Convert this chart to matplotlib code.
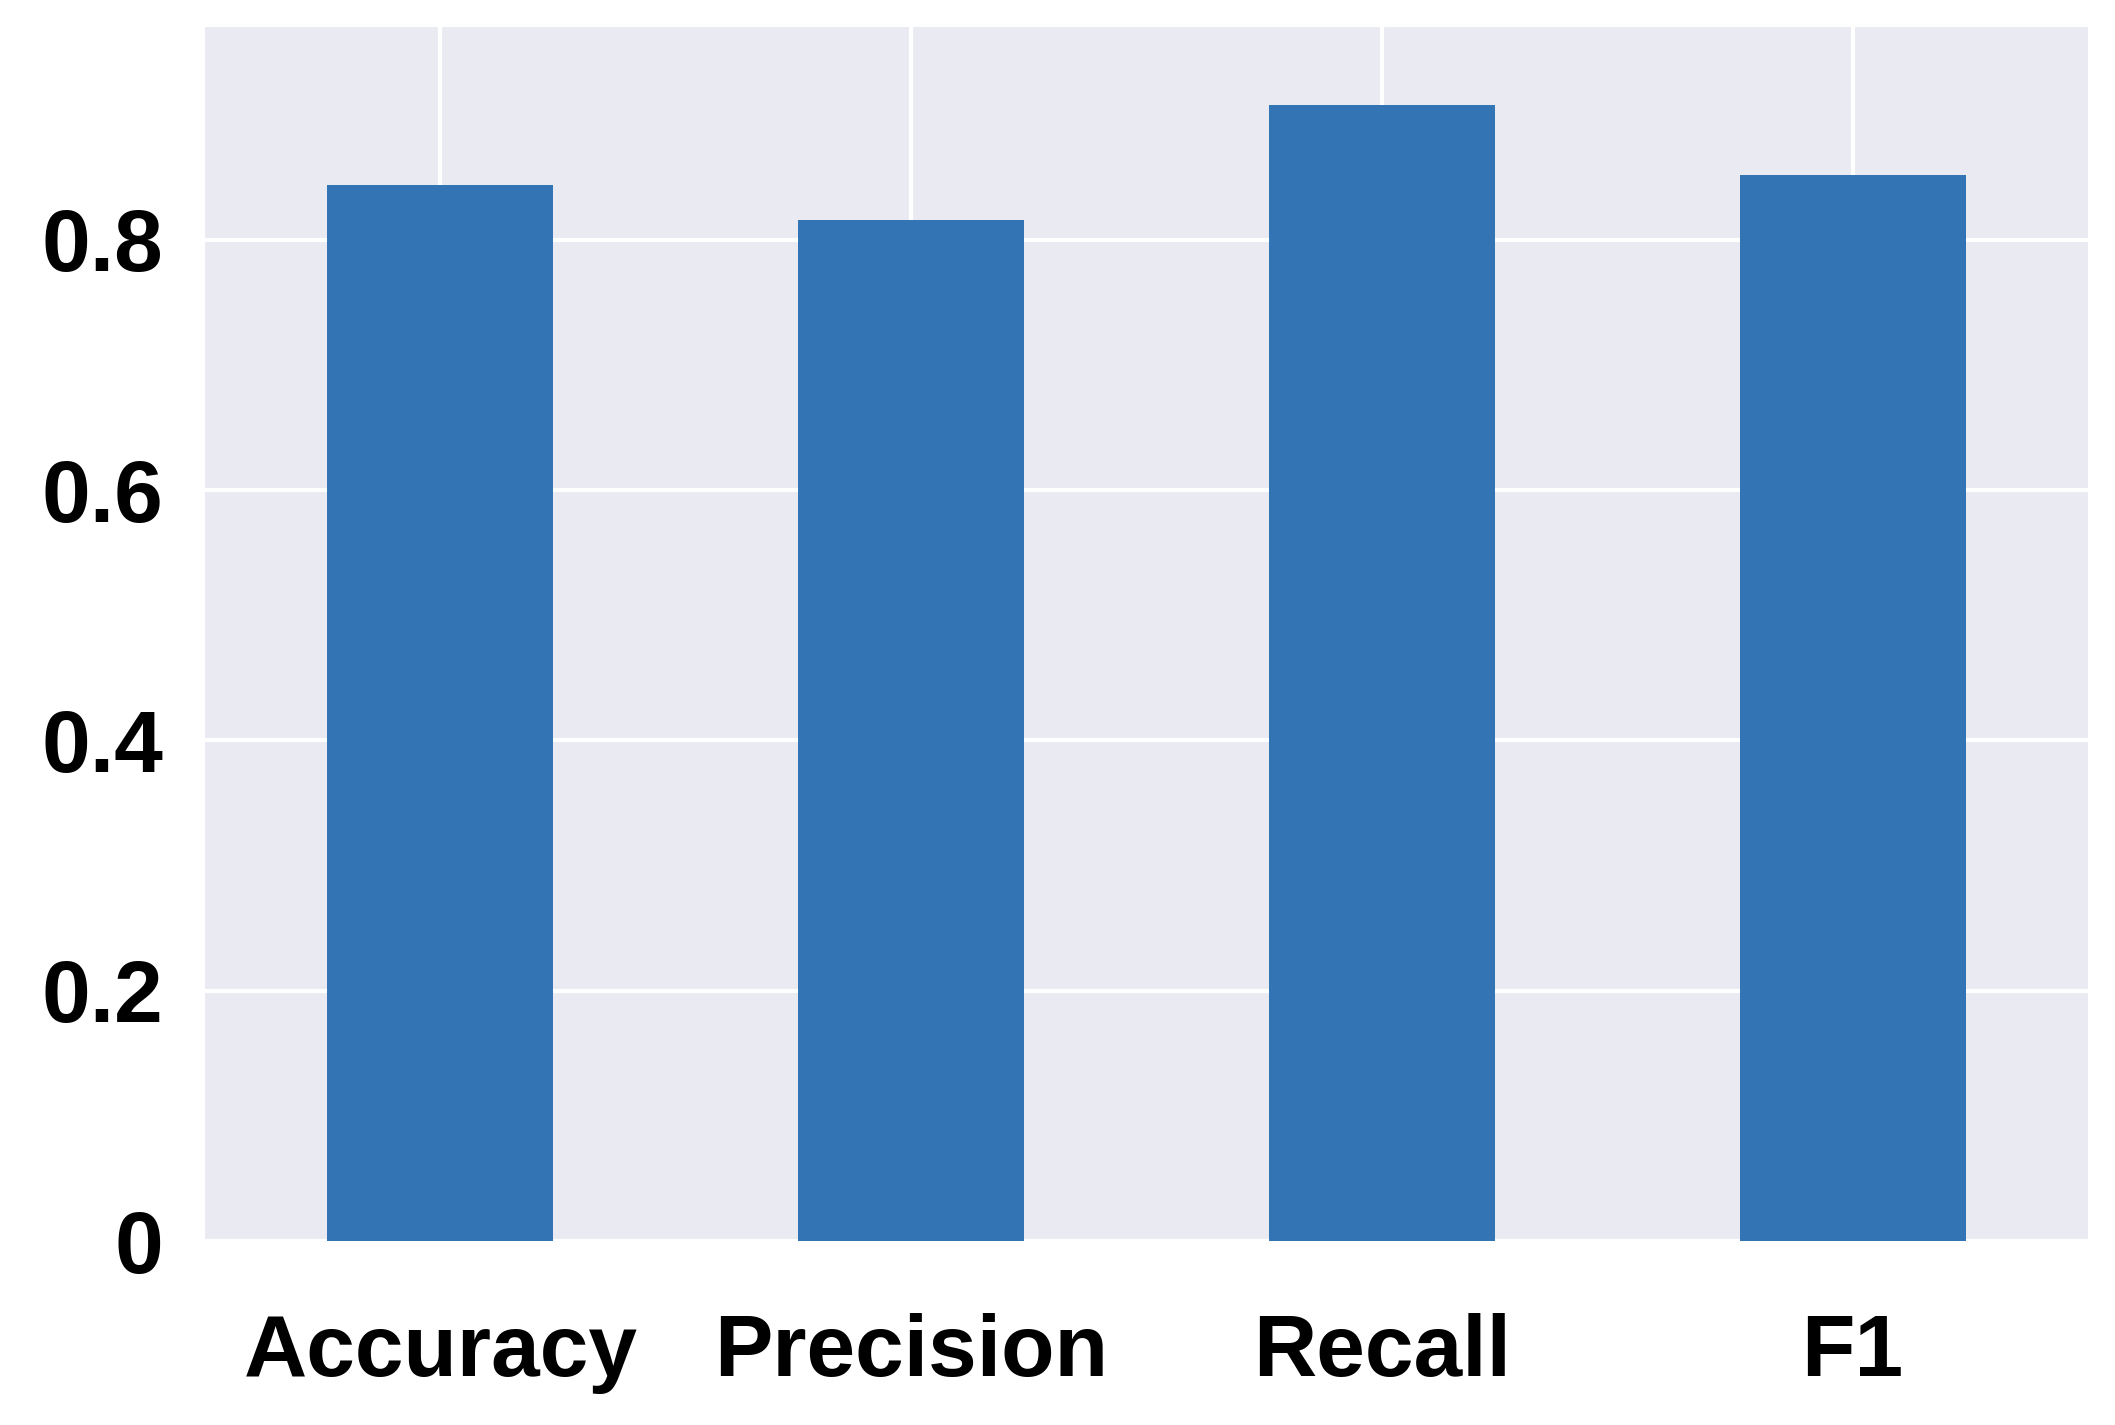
import matplotlib
matplotlib.use('Agg')
import matplotlib.pyplot as plt
import numpy as np

metrics = ['Accuracy', 'Precision', 'Recall', 'F1']
scores = [0.844, 0.816, 0.908, 0.852]
yticks = [0, 0.2, 0.4, 0.6, 0.8]
ytick_labels = ['0', '0.2', '0.4', '0.6', '0.8']

plt.rcParams['font.family'] = ['Liberation Sans', 'DejaVu Sans']
plt.rcParams['font.weight'] = 'bold'

fig = plt.figure(figsize=(21.15, 14.25), dpi=100)
ax = fig.add_axes([205 / 2115, 1 - 1241 / 1425, (2088 - 205) / 2115, (1241 - 27) / 1425])

x = np.arange(len(metrics))
ax.set_facecolor('#eaeaf2')
ax.bar(x, scores, width=0.48, color='#3274b4', zorder=2)

ax.set_xlim(-0.5, 3.5)
ax.set_ylim(0, 0.97)
ax.set_xticks(x)
ax.set_xticklabels(metrics, fontsize=63, fontweight='bold')
ax.set_yticks(yticks)
ax.set_yticklabels(ytick_labels, fontsize=63, fontweight='bold')
ax.tick_params(axis='x', length=0, pad=52)
ax.tick_params(axis='y', length=0, pad=30)
ax.grid(True, color='white', linewidth=3, zorder=0)
ax.set_axisbelow(True)
for s in ax.spines.values():
    s.set_visible(False)

fig.savefig('out.png', dpi=100)
